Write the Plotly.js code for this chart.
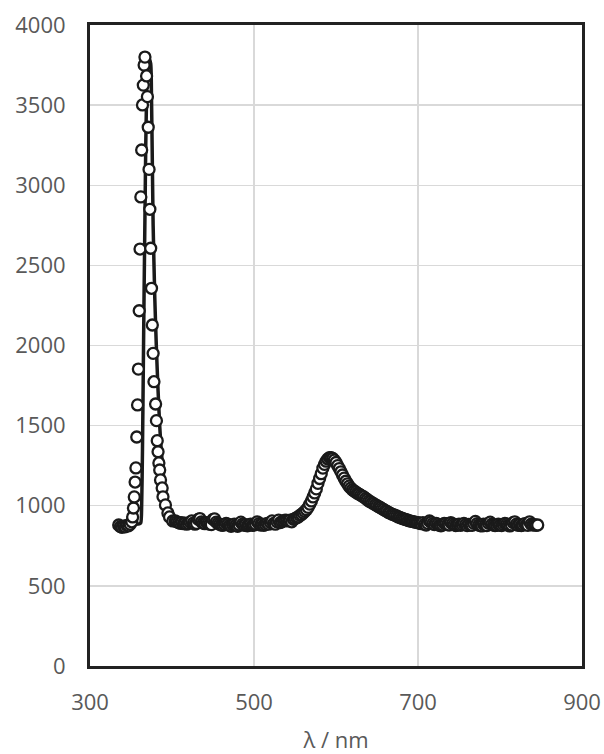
<!DOCTYPE html>
<html>
<head>
<meta charset="utf-8">
<script src="https://cdn.plot.ly/plotly-3.0.1.min.js"></script>
<style>html,body{margin:0;padding:0;background:#fff;}#chart{width:604px;height:754px;}</style>
</head>
<body>
<div id="chart"></div>
<script>
// Measured emission spectrum (markers), in segments
var peak1X = [335,337,339,341,343,345,347,349,351,352,353,354,355,356,357,358,359,360,361,362,363,364,365,366,367,369,370,371,372,373,374,375,376,377,378,380,381,382,383,384,385,386,388,389,392,395,397,401];
var peak1Y = [880,870,865,872,868,878,875,885,900,930,986,1055,1148,1236,1429,1629,1853,2217,2602,2927,3220,3501,3625,3750,3800,3682,3553,3362,3099,2850,2607,2357,2128,1951,1774,1635,1531,1406,1337,1267,1223,1161,1111,1056,1005,955,930,905];

var base1X = [404,406,408,410,412,414,416,418,420,422,424,426,428,430,432,434,436,438,440,442,444,446,448,450,452,454,456,458,460,462,464,466,468,470,472,474,476,478,480,482,484,486,488,490,492,494,496,498,500,502,504,506,508,510,512,514,516,518,520,522,524,526,528,530,532,534,536,538,540];
var base1Y = [905,900,895,890,895,888,892,885,890,898,905,892,885,890,915,920,900,892,888,895,890,885,882,915,918,898,890,885,880,878,882,890,885,878,872,880,885,878,872,880,898,885,878,882,875,880,885,878,880,885,900,888,880,885,878,882,890,885,895,905,890,885,900,910,895,900,905,910,908];

var peak2X = [542,544,546,548,550,552,554,556,558,560,562,564,566,568,570,572,574,576,578,580,582,584,586,588,590,592,594,596,598,600,602,604,606,608,610,612,614,616,618,620,622,624,626,628,630,632,634,636,638,640,642,644,646,648,650,652,654,656,658,660,662,664,666,668,670,672,674,676,678,680,682,684,686,688,690,692,694,696,698,700];
var peak2Y = [905,910,900,915,920,925,930,940,945,955,965,975,990,1010,1030,1055,1080,1105,1140,1170,1200,1235,1258,1278,1292,1300,1300,1295,1285,1270,1250,1232,1212,1192,1172,1153,1137,1122,1110,1100,1092,1086,1078,1073,1066,1060,1055,1046,1039,1030,1025,1018,1013,1006,1001,994,989,982,977,970,965,958,954,948,945,940,936,930,927,922,919,915,913,908,906,903,901,898,896,894];

var base2X = [702,704,706,708,710,712,714,716,718,720,722,724,726,728,730,732,734,736,738,740,742,744,746,748,750,752,754,756,758,760,762,764,766,768,770,772,774,776,778,780,782,784,786,788,790,792,794,796,798,800,802,804,806,808,810,812,814,816,818,820,822,824,826,828,830,832,834,836,838,840,842,844,846];
var base2Y = [892,888,895,885,880,890,905,898,888,882,890,885,878,875,880,890,888,882,880,895,888,882,876,880,885,878,882,890,882,876,884,880,878,890,902,888,880,876,874,885,880,876,890,898,885,880,876,878,885,880,876,882,890,885,878,874,880,895,900,885,878,882,876,880,888,882,878,900,885,880,882,878,880];

// Fitted curve (solid line)
var fitX = [335,345,355,360,362,363,364,365,366,367,368,369,370,372,374,375,376,377,379,381,383,385,387,390,393,396,400,410,450,500,530,545,560,570,580,587,593,598,604,612,625,640,660,680,700,750,800,846];
var fitY = [882,882,884,887,895,1000,1350,1850,2350,2800,3250,3550,3720,3790,3760,3550,3150,2750,2300,1980,1720,1500,1340,1170,1040,965,915,895,892,890,892,905,950,1010,1150,1240,1295,1295,1250,1170,1080,1020,965,920,898,892,890,888];

var dataX = peak1X.concat(base1X, peak2X, base2X);
var dataY = peak1Y.concat(base1Y, peak2Y, base2Y);

var tickFont = {family: 'Open Sans, Liberation Sans, sans-serif', size: 22, color: '#595959'};

var traces = [
  {x: fitX, y: fitY, type: 'scatter', mode: 'lines', line: {color: '#1a1a1a', width: 3.5, shape: 'spline', smoothing: 0.6}, hoverinfo: 'skip', showlegend: false},
  {x: dataX, y: dataY, type: 'scatter', mode: 'markers', marker: {symbol: 'circle', size: 11, color: '#ffffff', line: {color: '#1a1a1a', width: 2.3}}, showlegend: false, cliponaxis: false}
];

var layout = {
  width: 604, height: 754,
  margin: {l: 90, r: 22, t: 25, b: 88},
  paper_bgcolor: '#ffffff', plot_bgcolor: '#ffffff',
  showlegend: false,
  xaxis: {
    range: [300, 900], tick0: 300, dtick: 200, ticks: '',
    showgrid: true, gridcolor: '#d9d9d9', gridwidth: 1.3,
    showline: true, linecolor: '#222222', linewidth: 3, mirror: true,
    zeroline: false, tickfont: tickFont, ticklabelstandoff: 15,
    title: {text: 'λ / nm', font: tickFont, standoff: 18},
    automargin: false
  },
  yaxis: {
    range: [0, 4000], tick0: 0, dtick: 500, ticks: '',
    showgrid: true, gridcolor: '#d9d9d9', gridwidth: 1.3,
    showline: true, linecolor: '#222222', linewidth: 3, mirror: true,
    zeroline: false, tickfont: tickFont, ticklabelstandoff: 17,
    automargin: false
  }
};

Plotly.newPlot('chart', traces, layout, {displayModeBar: false, staticPlot: true});
</script>
</body>
</html>
